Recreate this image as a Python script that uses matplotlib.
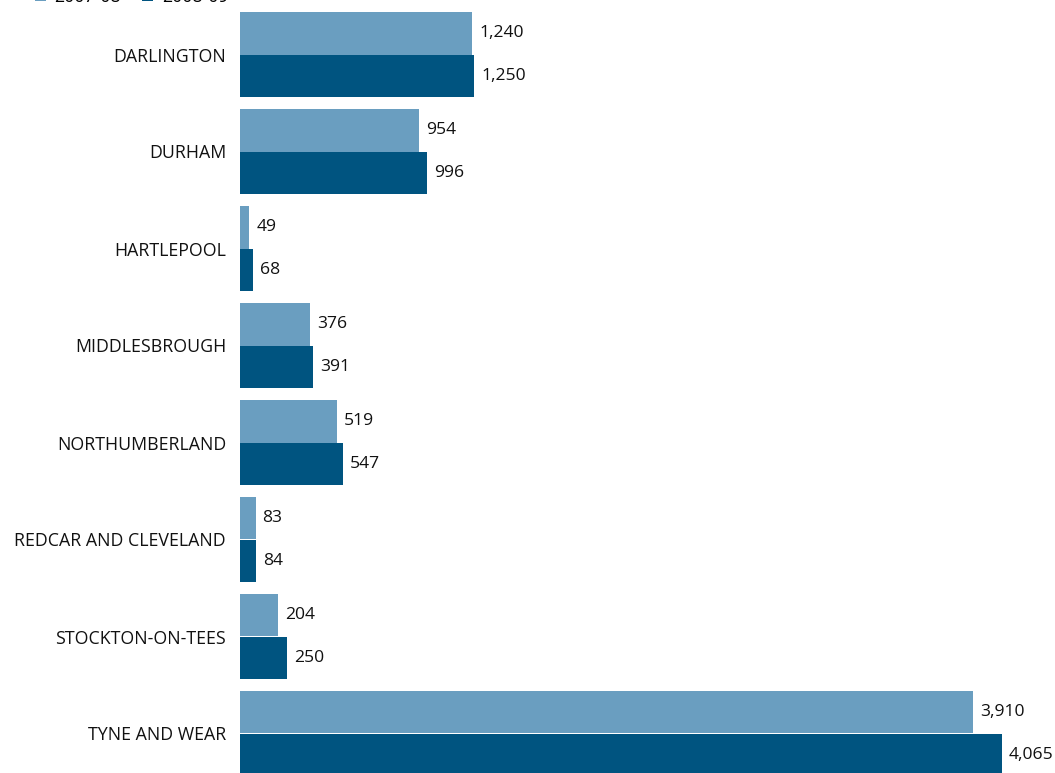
import matplotlib
matplotlib.use("Agg")
import matplotlib.pyplot as plt
import numpy as np

# Visitor numbers by area, two seasons
areas = ["DARLINGTON", "DURHAM", "HARTLEPOOL", "MIDDLESBROUGH", "NORTHUMBERLAND",
         "REDCAR AND CLEVELAND", "STOCKTON-ON-TEES", "TYNE AND WEAR"]
season_labels = ["2007-08", "2008-09"]
values_0708 = [1240, 954, 49, 376, 519, 83, 204, 3910]
values_0809 = [1250, 996, 68, 391, 547, 84, 250, 4065]

light = "#6A9EC0"
dark = "#005480"

plt.rcParams["font.family"] = ["Open Sans", "DejaVu Sans"]

fig = plt.figure(figsize=(10.55, 7.73), dpi=100)
ax = fig.add_axes([240 / 1055, 0, 815 / 1055, 1])

y = np.arange(len(areas))
h = 0.438
b1 = ax.barh(y - h / 2, values_0708, height=h, color=light, label=season_labels[0])
b2 = ax.barh(y + h / 2, values_0809, height=h, color=dark, label=season_labels[1])

for bars, vals in ((b1, values_0708), (b2, values_0809)):
    ax.bar_label(bars, labels=[f"{v:,}" for v in vals], padding=5, fontsize=12.6, color="#111111")

ax.set_xlim(0, 4347)
ax.set_ylim(7 + 39.5 / 97, -54.5 / 97)
ax.set_yticks(y)
ax.set_yticklabels(areas, fontsize=12.8, color="#111111")
ax.tick_params(axis="y", length=0, pad=10)
ax.set_xticks([])
for side in ("top", "right", "bottom", "left"):
    ax.spines[side].set_visible(False)

fig.legend(handles=[b1, b2], labels=season_labels, loc="lower left",
           bbox_to_anchor=(35 / 1055, 1.0 - 6 / 773), ncol=2, frameon=False,
           borderpad=0, borderaxespad=0, handlelength=0.6, handleheight=0.6,
           handletextpad=0.5, columnspacing=1.2, fontsize=12.8)

fig.savefig("out.png", dpi=100)
